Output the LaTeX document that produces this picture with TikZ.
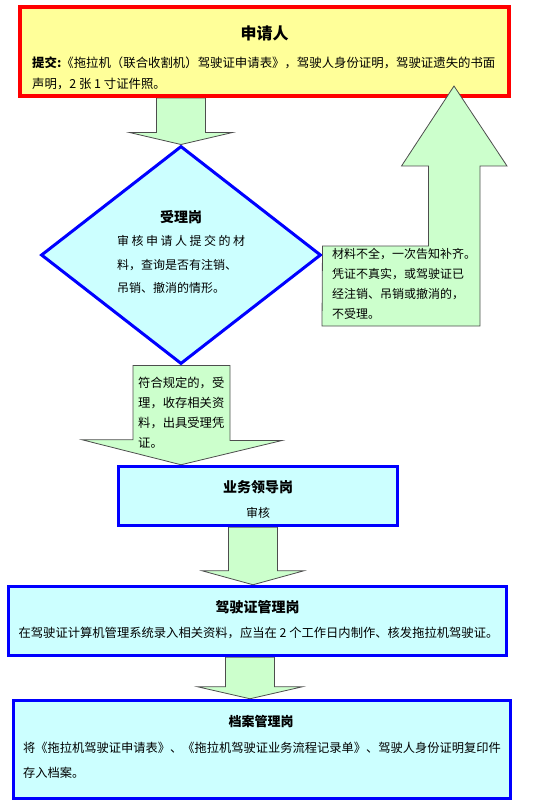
\documentclass[tikz,border=0pt]{standalone}
\usepackage{fontspec}
\setmainfont{Noto Sans CJK SC}
\usetikzlibrary{shapes.geometric,calc,backgrounds}
\definecolor{applyFill}{HTML}{FFFF99}
\definecolor{postFill}{HTML}{CCFFFF}
\definecolor{arrowFill}{HTML}{CCFFCC}
\definecolor{arrowLine}{HTML}{4D4D4D}

\begin{document}
\begin{tikzpicture}
[x=1pt,y=-1pt,
  applyDecorate/.style={draw=red,line width=4pt,fill=applyFill,inner sep=0pt},
  postDecorate/.style={draw=blue,line width=3.5pt,fill=postFill,inner sep=0pt},
  arrowDecorate/.style={draw=arrowLine,line width=0.8pt,fill=arrowFill,line join=miter},
  titleDecorate/.style={font=\bfseries\fontsize{14}{14}\selectfont,inner sep=0pt},
  textDecorate/.style={font=\fontsize{12}{20}\selectfont,align=left,inner sep=0pt,anchor=north west}]
\useasboundingbox (0,0) rectangle (556,805);
%% boxes
\node (apply) at (264.5,51.5) [applyDecorate,minimum width=489pt,minimum height=89pt] {};
\node (check) at (181,255) [diamond,draw=blue,line width=3pt,fill=postFill,
  minimum width=280pt,minimum height=218pt,inner sep=0pt] {};
\foreach \nodename/\x/\y/\w/\h in {
  lead/258/496/279/59, license/257.5/621/498/69, archive/262/749.5/497/98}
{
  \node (\nodename) at (\x,\y) [postDecorate,minimum width=\w pt,minimum height=\h pt] {};
}
%% return arrow (lies over the applicant box)
\coordinate (backTip) at (454,86);
\draw[arrowDecorate] ($(check.east)+(0,-9)$) -- ++(106,0) -- ++(0,-80) -- ++(-27,0)
  -- (backTip) -- ++(53,80) -- ++(-27,0) -- ++(0,160) -- ++(-158,0) -- cycle;
%% down arrows
\coordinate (acceptTip) at (check.south |- lead.north);
\begin{pgfonlayer}{background}
\foreach \from/\to/\x/\headw/\headl in {
  apply/check/181/51.5/12, lead/license/253/51/14, license/archive/250/52.5/12}
{
  \path (\x,0 |- \from.south) coordinate (top) (\x,0 |- \to.north) coordinate (tip);
  \draw[arrowDecorate] ($(top)+(-24.5,0)$) |- ($(tip)+(-\headw,-\headl)$) -- (tip)
    -- ($(tip)+(\headw,-\headl)$) -| ($(top)+(24.5,0)$) -- cycle;
}
\draw[arrowDecorate] ($(check.south)+(-48,0)$) -- ++(97,0) -- ++(0,75) -- ++(52,0)
  -- (acceptTip) -- ++(-99,-25) -- ++(51,0) -- cycle;
\end{pgfonlayer}
%% texts
\node (applyTitle) at (264.5,33) [titleDecorate,font=\bfseries\fontsize{16}{16}\selectfont] {申请人};
\node (applyText) at (32,56.5) [textDecorate,font=\fontsize{12.4}{21}\selectfont]
  {\textbf{提交:}《拖拉机（联合收割机）驾驶证申请表》，驾驶人身份证明，驾驶证遗失的书面\\声明，2 张 1 寸证件照。};
\node (checkTitle) at (181,217) [titleDecorate] {受理岗};
\node (checkText) at (117,235.5) [textDecorate,font=\fontsize{12}{23.5}\selectfont]
  {\makebox[128pt][s]{审 核 申 请 人 提 交 的 材}\\料，查询是否有注销、\\吊销、撤消的情形。};
\node (backText) at (332,248.5) [textDecorate]
  {材料不全，一次告知补齐。\\凭证不真实，或驾驶证已\\经注销、吊销或撤消的，\\不受理。};
\node (acceptText) at (138,376.5) [textDecorate,font=\fontsize{12.3}{20}\selectfont]
  {符合规定的，受\\理，收存相关资\\料，出具受理凭\\证。};
\node (leadTitle) at (258,487) [titleDecorate] {业务领导岗};
\node (leadText) at (258,513) [inner sep=0pt,font=\fontsize{12}{12}\selectfont] {审核};
\node (licenseTitle) at (257.5,607) [titleDecorate] {驾驶证管理岗};
\node (licenseText) at (258.5,633) [inner sep=0pt,font=\fontsize{12.3}{12}\selectfont]
  {在驾驶证计算机管理系统录入相关资料，应当在 2 个工作日内制作、核发拖拉机驾驶证。};
\node (archiveTitle) at (261,721) [titleDecorate,font=\bfseries\fontsize{13}{13}\selectfont] {档案管理岗};
\node (archiveText) at (23,741.5) [textDecorate,font=\fontsize{12.25}{25}\selectfont]
  {将《拖拉机驾驶证申请表》、《拖拉机驾驶证业务流程记录单》、驾驶人身份证明复印件\\存入档案。};
\end{tikzpicture}
\end{document}
